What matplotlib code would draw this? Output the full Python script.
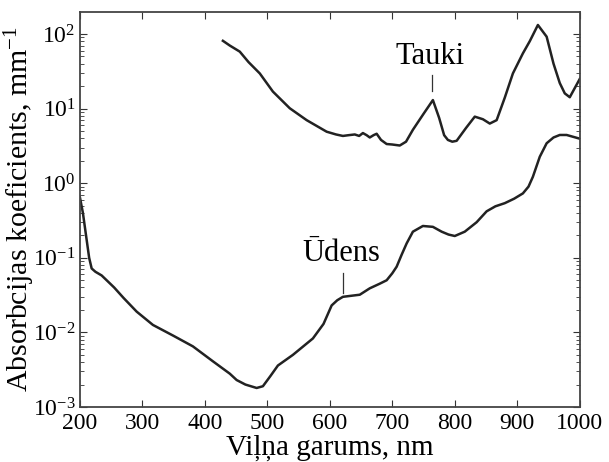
import matplotlib
matplotlib.use('Agg')
import matplotlib.pyplot as plt

plt.rcParams['font.family'] = ['Liberation Serif', 'DejaVu Serif']
plt.rcParams['mathtext.fontset'] = 'custom'
plt.rcParams['mathtext.rm'] = 'Liberation Serif'
plt.rcParams['mathtext.it'] = 'Liberation Serif:italic'
plt.rcParams['axes.unicode_minus'] = False

# water absorption, mm^-1
wl_water = [200, 205, 210, 215, 219, 225, 235, 243, 255, 270, 291, 317, 350, 381,
            413, 440, 451, 465, 483, 493, 505, 517, 541, 573, 590, 603, 612, 621,
            648, 664, 680, 691, 700, 707, 715, 723, 733, 749, 765, 779, 790, 800,
            816, 835, 851, 865, 880, 895, 909, 918, 925, 936, 947, 958, 968, 979, 1000]
mu_water = [0.66, 0.4, 0.2, 0.1, 0.072, 0.065, 0.058, 0.05, 0.04, 0.029, 0.019,
            0.0126, 0.009, 0.0065, 0.0041, 0.0028, 0.0023, 0.002, 0.0018, 0.0019,
            0.0026, 0.0036, 0.005, 0.0083, 0.013, 0.023, 0.027, 0.030, 0.032, 0.039,
            0.045, 0.05, 0.062, 0.076, 0.11, 0.156, 0.224, 0.267, 0.26, 0.224, 0.205,
            0.196, 0.224, 0.3, 0.42, 0.49, 0.54, 0.62, 0.73, 0.9, 1.22, 2.26, 3.43,
            4.1, 4.43, 4.43, 3.95]

# fat absorption, mm^-1
wl_fat = [429, 440, 456, 470, 488, 509, 536, 563, 595, 610, 621, 630, 640, 647, 653,
          659, 664, 670, 675, 682, 691, 700, 712, 722, 733, 750, 765, 775, 783, 789,
          796, 803, 818, 832, 845, 856, 867, 880, 893, 909, 920, 933, 947, 958, 968,
          976, 984, 1000]
mu_fat = [81, 70, 58, 42, 29.6, 16.9, 10.1, 7.0, 4.9, 4.5, 4.3, 4.4, 4.5, 4.3, 4.7,
          4.4, 4.1, 4.4, 4.6, 3.8, 3.35, 3.3, 3.2, 3.6, 5.2, 8.5, 13.0, 7.5, 4.4, 3.8,
          3.6, 3.7, 5.5, 7.8, 7.2, 6.3, 7.0, 14, 29.6, 55, 80, 132, 92, 40, 22,
          16, 14.2, 25]

fig = plt.figure(figsize=(6.09, 4.62), dpi=100)
ax = fig.add_axes([0.131, 0.119, 0.821, 0.855])

ax.plot(wl_water, mu_water, color='#222222', lw=1.8)
ax.plot(wl_fat, mu_fat, color='#222222', lw=1.8)

ax.set_yscale('log')
ax.set_xlim(200, 1000)
ax.set_ylim(1e-3, 197)
ax.set_xticks(range(200, 1001, 100))

ax.tick_params(axis='both', which='both', direction='in', top=True, right=True,
               labelsize=17, pad=3, colors='#333333', labelcolor='black')
ax.tick_params(axis='x', pad=4.5)
ax.tick_params(which='major', length=5)
ax.tick_params(which='minor', length=3)
for s in ax.spines.values():
    s.set_color('#444444')
    s.set_linewidth(1.3)

ax.set_xlabel('Viļņa garums, nm', fontsize=21, labelpad=0)
ax.set_ylabel('Absorbcijas koeficients, mm$^{-1}$', fontsize=21.5)
ax.yaxis.set_label_coords(-0.086, 0.5)

# labels with leader lines
ax.text(760, 50, 'Tauki', fontsize=22, ha='center', va='center')
ax.plot([763, 763], [17, 28], color='#333333', lw=0.9)
ax.text(619, 0.113, 'Ūdens', fontsize=22, ha='center', va='center')
ax.plot([621, 621], [0.034, 0.062], color='#333333', lw=0.9)

fig.savefig('out.png', dpi=100)
